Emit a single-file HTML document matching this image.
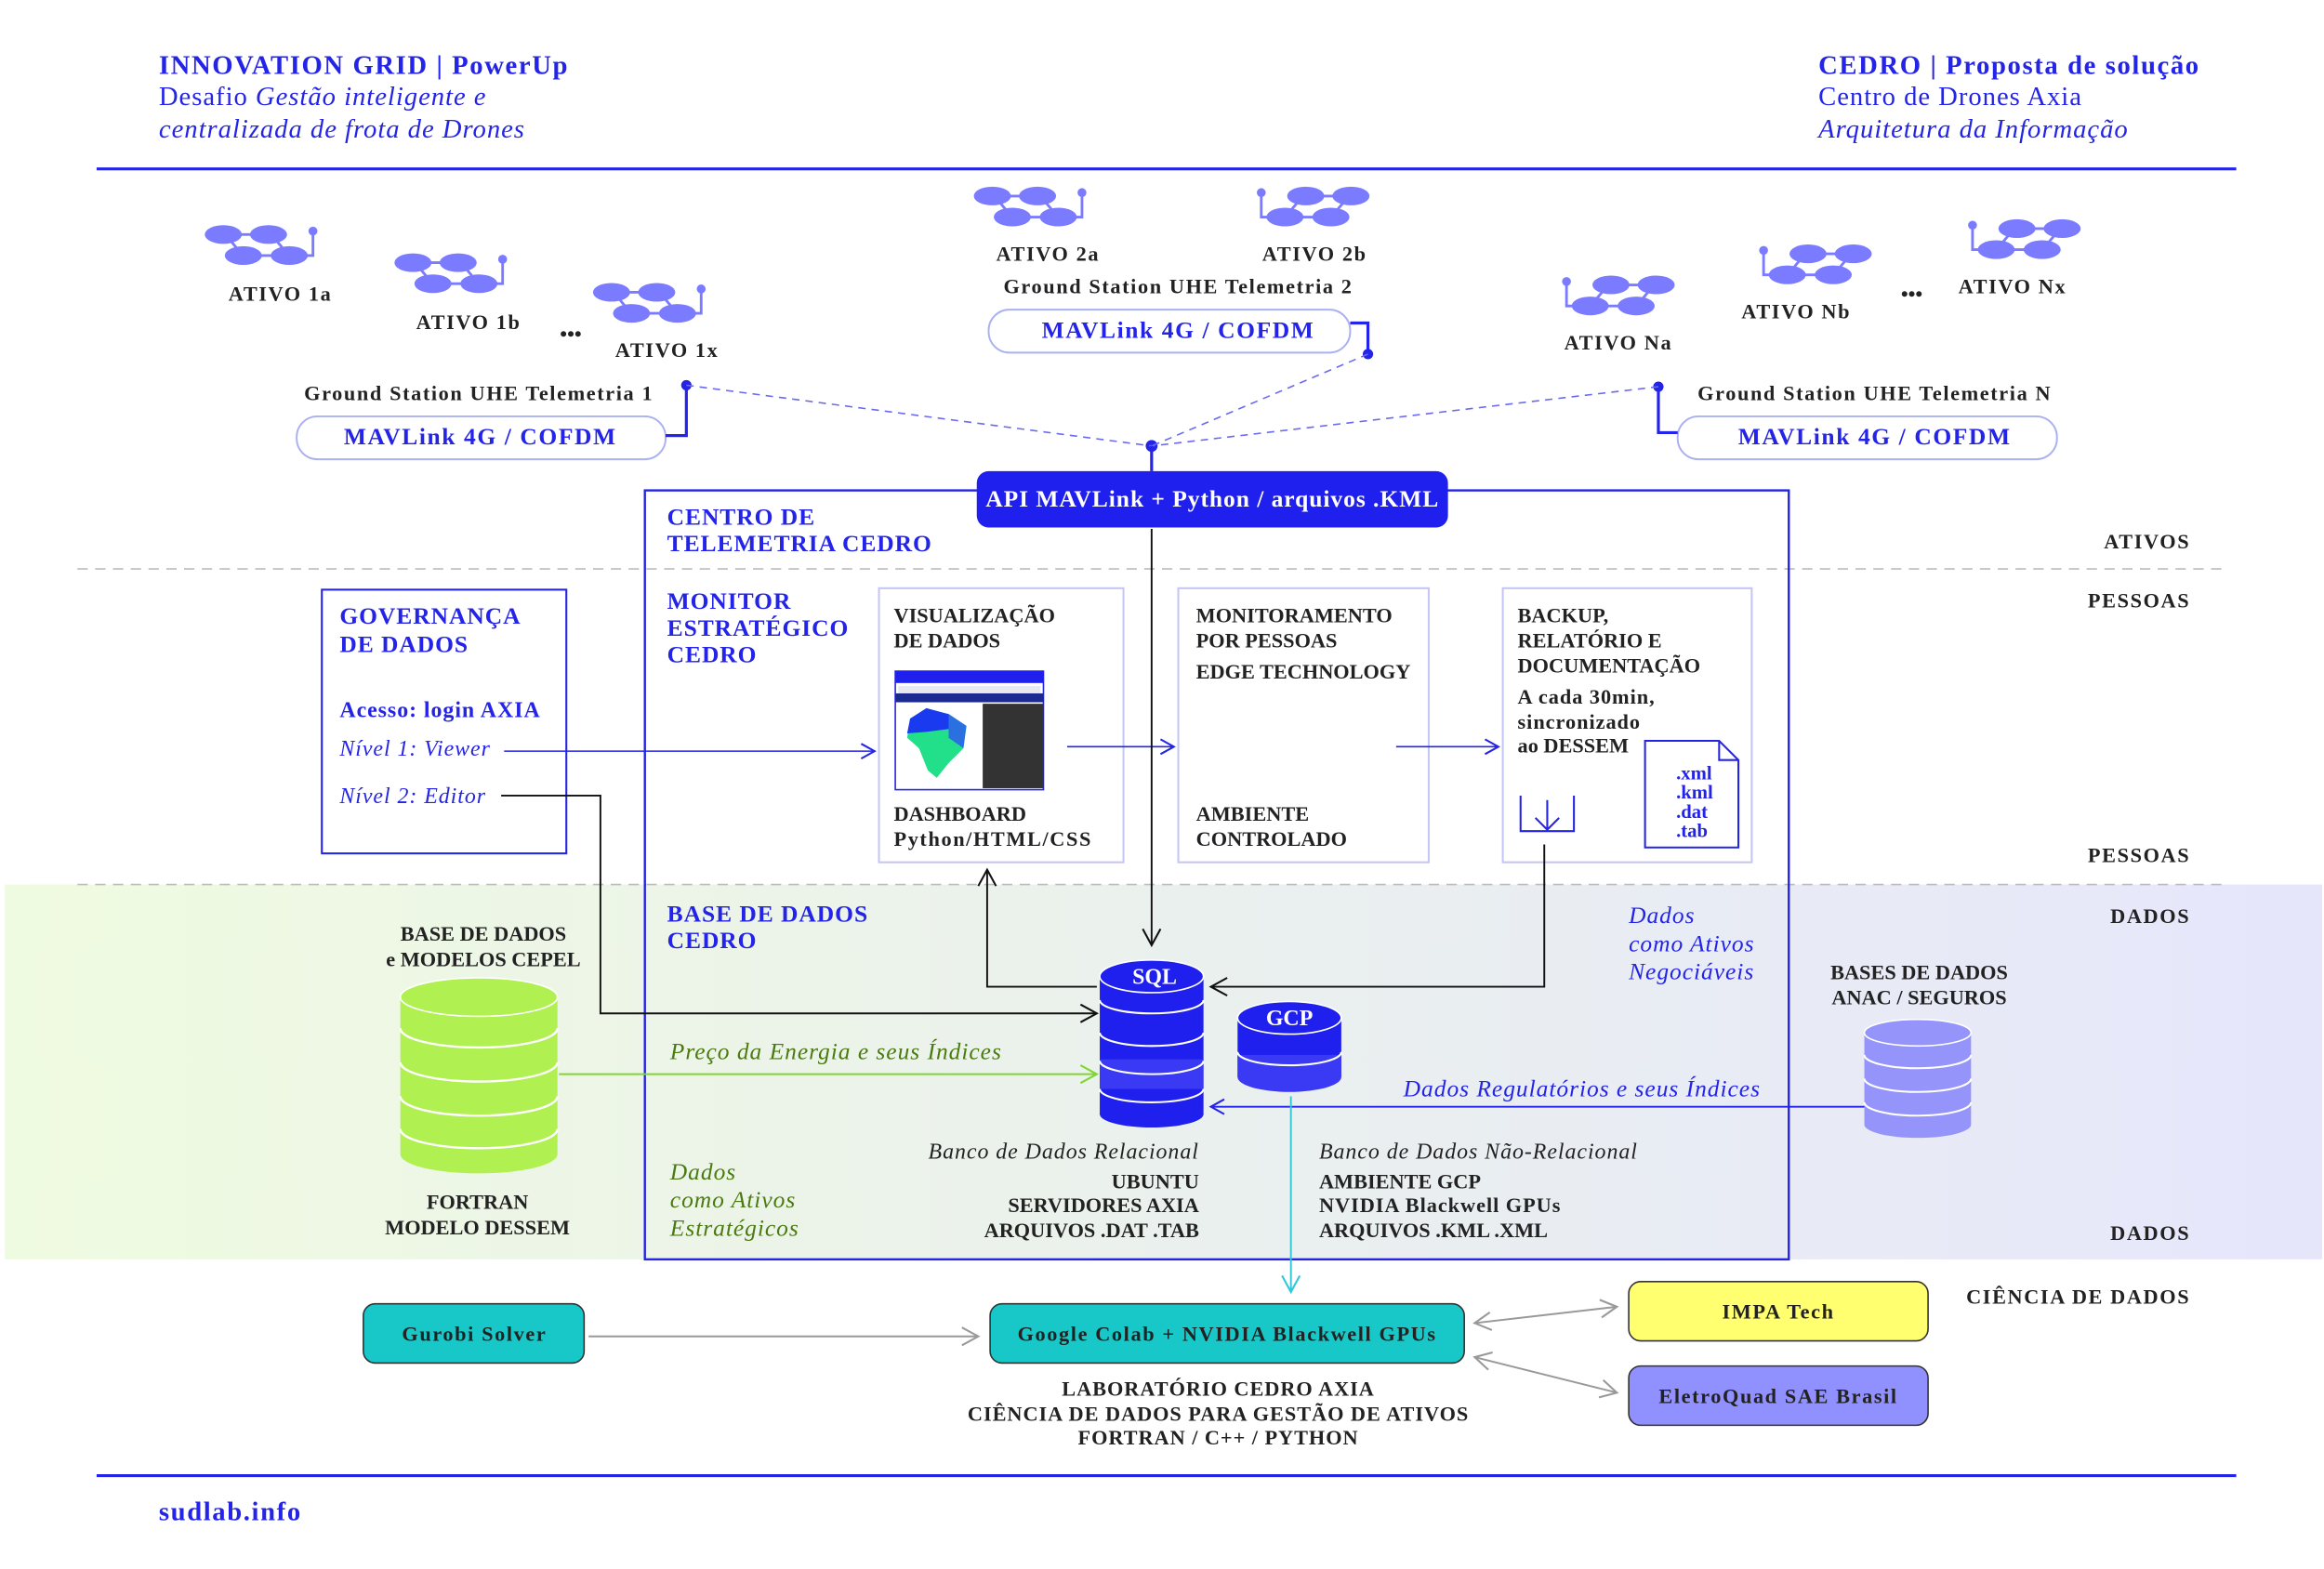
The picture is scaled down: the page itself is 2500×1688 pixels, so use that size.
<!DOCTYPE html>
<html><head><meta charset="utf-8"><style>
html,body{margin:0;padding:0;background:#fff}
svg{display:block}
text{font-family:"Liberation Serif",serif}
.b{font-weight:bold;fill:#222;font-size:14px}
.bl{font-weight:bold;fill:#2424e8}
.it{font-style:italic}
.w{letter-spacing:1px}
.w2{letter-spacing:0.6px}
</style></head><body>
<svg width="2500" height="1688" viewBox="0 0 1568 1059" xmlns="http://www.w3.org/2000/svg">
<defs>
<linearGradient id="band" x1="0" x2="1" y1="0" y2="0">
<stop offset="0" stop-color="#effbe0"/><stop offset="1" stop-color="#e6e6fb"/></linearGradient>
<g id="dr" fill="#7b7bff">
<ellipse cx="12.5" cy="6.3" rx="12.5" ry="6.3"/><ellipse cx="43" cy="6.3" rx="12.5" ry="6.3"/>
<ellipse cx="26" cy="20.5" rx="12.5" ry="6.3"/><ellipse cx="57" cy="20.5" rx="12.5" ry="6.3"/>
<path d="M20,6.3H36M17,10L22,16M48,10L53,16M35,20.5H50M69,20.5H73V4" stroke="#7b7bff" stroke-width="1.8" fill="none"/>
<circle cx="73" cy="4" r="3"/></g>
<marker id="ab" markerWidth="12" markerHeight="12" refX="10" refY="6" orient="auto" markerUnits="userSpaceOnUse"><path d="M1,1L10,6L1,11" fill="none" stroke="#2424e8" stroke-width="1.3"/></marker>
<marker id="ak" markerWidth="14" markerHeight="14" refX="12" refY="7" orient="auto" markerUnits="userSpaceOnUse"><path d="M1,1L12,7L1,13" fill="none" stroke="#111" stroke-width="1.3"/></marker>
<marker id="ag" markerWidth="14" markerHeight="14" refX="12" refY="7" orient="auto" markerUnits="userSpaceOnUse"><path d="M1,1L12,7L1,13" fill="none" stroke="#7fd630" stroke-width="1.3"/></marker>
<marker id="ac" markerWidth="14" markerHeight="14" refX="12" refY="7" orient="auto" markerUnits="userSpaceOnUse"><path d="M1,1L12,7L1,13" fill="none" stroke="#30c8d8" stroke-width="1.3"/></marker>
<marker id="ay" markerWidth="14" markerHeight="14" refX="12" refY="7" orient="auto" markerUnits="userSpaceOnUse"><path d="M1,1L12,7L1,13" fill="none" stroke="#999" stroke-width="1.3"/></marker>
<marker id="ays" markerWidth="14" markerHeight="14" refX="12" refY="7" orient="auto-start-reverse" markerUnits="userSpaceOnUse"><path d="M1,1L12,7L1,13" fill="none" stroke="#999" stroke-width="1.3"/></marker>
</defs>
<rect x="3" y="597" width="1564" height="253" fill="url(#band)"/>
<!-- header -->
<text x="107" y="50" class="bl w" font-size="18">INNOVATION GRID | PowerUp</text>
<text x="107" y="71" font-size="18" fill="#2424e8" class="w2">Desafio <tspan class="it">Gestão inteligente e</tspan></text>
<text x="107" y="93" font-size="18" fill="#2424e8" class="it w2">centralizada de frota de Drones</text>
<text x="1227" y="50" class="bl w" font-size="18">CEDRO | Proposta de solução</text>
<text x="1227" y="71" font-size="18" fill="#2424e8" class="w2">Centro de Drones Axia</text>
<text x="1227" y="93" font-size="18" fill="#2424e8" class="it w2">Arquitetura da Informação</text>
<line x1="65" y1="114" x2="1509" y2="114" stroke="#2424e8" stroke-width="2"/>
<line x1="65" y1="996" x2="1509" y2="996" stroke="#2424e8" stroke-width="2"/>
<text x="107" y="1026" class="bl w" font-size="18">sudlab.info</text>
<line x1="52" y1="384" x2="1500" y2="384" stroke="#bbb" stroke-dasharray="7,5"/>
<line x1="52" y1="597" x2="1500" y2="597" stroke="#bbb" stroke-dasharray="7,5"/>
<g text-anchor="end">
<text x="1478" y="370" class="b w" font-size="16">ATIVOS</text><text x="1478" y="410" class="b w" font-size="16">PESSOAS</text>
<text x="1478" y="582" class="b w" font-size="16">PESSOAS</text><text x="1478" y="623" class="b w" font-size="16">DADOS</text>
<text x="1478" y="837" class="b w" font-size="16">DADOS</text><text x="1478" y="880" class="b w" font-size="16">CIÊNCIA DE DADOS</text></g>
<!-- drones -->
<use href="#dr" x="138" y="152"/><use href="#dr" x="266" y="171"/><use href="#dr" x="400" y="191"/>
<use href="#dr" x="657" y="126"/>
<use href="#dr" transform="translate(924,126) scale(-1,1)"/>
<use href="#dr" transform="translate(1130,186) scale(-1,1)"/>
<use href="#dr" transform="translate(1263,165) scale(-1,1)"/>
<use href="#dr" transform="translate(1404,148) scale(-1,1)"/>
<g text-anchor="middle">
<text x="189" y="203" class="b w" font-size="16">ATIVO 1a</text><text x="316" y="222" class="b w" font-size="16">ATIVO 1b</text>
<text x="385" y="230" class="b" font-size="15">•••</text><text x="450" y="241" class="b w" font-size="16">ATIVO 1x</text>
<text x="707" y="176" class="b w" font-size="16">ATIVO 2a</text><text x="887" y="176" class="b w" font-size="16">ATIVO 2b</text>
<text x="795" y="198" class="b w" font-size="16">Ground Station UHE Telemetria 2</text>
<text x="323" y="270" class="b w" font-size="16">Ground Station UHE Telemetria 1</text>
<text x="1265" y="270" class="b w" font-size="16">Ground Station UHE Telemetria N</text>
<text x="1092" y="236" class="b w" font-size="16">ATIVO Na</text><text x="1212" y="215" class="b w" font-size="16">ATIVO Nb</text>
<text x="1290" y="203" class="b" font-size="15">•••</text><text x="1358" y="198" class="b w" font-size="16">ATIVO Nx</text>
</g>
<g fill="#fff" stroke="#aab0f0" stroke-width="1.2">
<rect x="667" y="209" width="244" height="29" rx="14"/><rect x="200" y="281" width="249" height="29" rx="14"/><rect x="1132" y="281" width="256" height="29" rx="14"/></g>
<g text-anchor="middle" class="bl w" font-size="16">
<text x="795" y="228">MAVLink 4G / COFDM</text><text x="324" y="300">MAVLink 4G / COFDM</text><text x="1265" y="300">MAVLink 4G / COFDM</text></g>
<g stroke="#2424e8" stroke-width="2" fill="none"><path d="M911,218H923V239M449,294H463V260M1132,292H1119V261"/></g>
<g fill="#2424e8"><circle cx="923" cy="239" r="3.5"/><circle cx="463" cy="260" r="3.5"/><circle cx="1119" cy="261" r="3.5"/><circle cx="777" cy="301" r="4"/></g>
<g stroke="#6a6af0" stroke-width="1" stroke-dasharray="5,4"><line x1="463" y1="260" x2="777" y2="301"/><line x1="923" y1="239" x2="777" y2="301"/><line x1="1119" y1="261" x2="777" y2="301"/></g>
<line x1="777" y1="301" x2="777" y2="318" stroke="#2424e8" stroke-width="2"/>
<!-- centro -->
<rect x="435" y="331" width="772" height="519" fill="none" stroke="#2424e8" stroke-width="1.5"/>
<rect x="659" y="318" width="318" height="38" rx="8" fill="#2020ee"/>
<text x="818" y="342" text-anchor="middle" font-weight="bold" font-size="16" fill="#fff" class="w2">API MAVLink + Python / arquivos .KML</text>
<text x="450" y="354" class="bl w2" font-size="16">CENTRO DE</text><text x="450" y="372" class="bl w2" font-size="16">TELEMETRIA CEDRO</text>
<text x="450" y="411" class="bl w2" font-size="16">MONITOR</text><text x="450" y="429" class="bl w2" font-size="16">ESTRATÉGICO</text><text x="450" y="447" class="bl w2" font-size="16">CEDRO</text>
<!-- governanca -->
<rect x="217" y="398" width="165" height="178" fill="#fff" stroke="#2424e8" stroke-width="1.3"/>
<text x="229" y="421" class="bl w2" font-size="16">GOVERNANÇA</text><text x="229" y="440" class="bl w2" font-size="16">DE DADOS</text>
<text x="229" y="484" class="bl w2" font-size="15">Acesso: login AXIA</text>
<text x="229" y="510" class="it w2" font-size="15" fill="#2424e8">Nível 1: Viewer</text>
<text x="229" y="542" class="it w2" font-size="15" fill="#2424e8">Nível 2: Editor</text>
<!-- boxes -->
<g fill="#fff" stroke="#c6c6f4" stroke-width="1.3">
<rect x="593" y="397" width="165" height="185"/><rect x="795" y="397" width="169" height="185"/><rect x="1014" y="397" width="168" height="185"/></g>
<g font-size="14">
<text x="603" y="420" class="b">VISUALIZAÇÃO</text><text x="603" y="437" class="b">DE DADOS</text>
<text x="603" y="554" class="b">DASHBOARD</text><text x="603" y="571" class="b w">Python/HTML/CSS</text>
<text x="807" y="420" class="b">MONITORAMENTO</text><text x="807" y="437" class="b">POR PESSOAS</text><text x="807" y="458" class="b">EDGE TECHNOLOGY</text>
<text x="807" y="554" class="b">AMBIENTE</text><text x="807" y="571" class="b">CONTROLADO</text>
<text x="1024" y="420" class="b">BACKUP,</text><text x="1024" y="437" class="b">RELATÓRIO E</text><text x="1024" y="454" class="b">DOCUMENTAÇÃO</text>
<text x="1024" y="475" class="b w2">A cada 30min,</text><text x="1024" y="492" class="b w2">sincronizado</text><text x="1024" y="508" class="b">ao DESSEM</text></g>
<!-- dashboard thumb -->
<rect x="604" y="453" width="100" height="80" fill="#fff" stroke="#2424e8"/>
<rect x="604" y="453" width="100" height="8" fill="#2020ee"/>
<rect x="606" y="463" width="96" height="5" fill="#e8e8f0"/>
<rect x="604" y="468" width="100" height="6" fill="#1a2a90"/>
<rect x="663" y="475" width="41" height="57" fill="#333"/>
<path d="M614,485L625,478L640,482L652,490L650,505L640,515L632,525L626,520L620,505L612,498Z" fill="#22e08a"/>
<path d="M614,485L625,478L640,482L652,490L640,492L625,494L612,495Z" fill="#1a3af0"/>
<path d="M640,482L652,490L650,505L640,498Z" fill="#2a70e0"/>
<!-- file icon -->
<path d="M1110,572V500H1160L1173,513V572Z" fill="#fff" stroke="#2424e8" stroke-width="1.3"/>
<path d="M1160,500V513H1173" fill="none" stroke="#2424e8" stroke-width="1.3"/>
<g class="bl" font-size="13"><text x="1131" y="526">.xml</text><text x="1131" y="539">.kml</text><text x="1131" y="552">.dat</text><text x="1131" y="565">.tab</text></g>
<path d="M1026,537V561H1062V537" fill="none" stroke="#2424e8" stroke-width="1.3"/>
<path d="M1044,540V560M1036,552L1044,560L1052,552" fill="none" stroke="#2424e8" stroke-width="1.3"/>
<!-- arrows pessoas -->
<line x1="340" y1="507" x2="590" y2="507" stroke="#2424e8" marker-end="url(#ab)"/>
<line x1="720" y1="504" x2="792" y2="504" stroke="#2424e8" marker-end="url(#ab)"/>
<line x1="942" y1="504" x2="1011" y2="504" stroke="#2424e8" marker-end="url(#ab)"/>
<path d="M338,537H405V684H740" fill="none" stroke="#111" stroke-width="1.2" marker-end="url(#ak)"/>
<path d="M740,666H666V587" fill="none" stroke="#111" stroke-width="1.2" marker-end="url(#ak)"/>
<path d="M1042,570V666H817" fill="none" stroke="#111" stroke-width="1.2" marker-end="url(#ak)"/>
<line x1="777" y1="357" x2="777" y2="638" stroke="#111" stroke-width="1.2" marker-end="url(#ak)"/>
<!-- dados -->
<text x="450" y="622" class="bl w2" font-size="16">BASE DE DADOS</text><text x="450" y="640" class="bl w2" font-size="16">CEDRO</text>
<g class="it w2" font-size="16" fill="#2424e8"><text x="1099" y="623">Dados</text><text x="1099" y="642">como Ativos</text><text x="1099" y="661">Negociáveis</text></g>
<g class="it w2" font-size="16" fill="#4a7a10"><text x="452" y="796">Dados</text><text x="452" y="815">como Ativos</text><text x="452" y="834">Estratégicos</text></g>
<!-- SQL cyl -->
<rect x="742" y="659" width="70" height="93" fill="#2020ee"/>
<ellipse cx="777" cy="752" rx="35" ry="9" fill="#2020ee"/>
<rect x="742" y="715" width="70" height="20" fill="#3a3af5"/>
<g fill="none" stroke="#fff" stroke-width="1.3">
<path d="M742,675A35,9 0 0 0 812,675M742,697A35,9 0 0 0 812,697M742,716A35,9 0 0 0 812,716M742,735A35,9 0 0 0 812,735"/></g>
<ellipse cx="777" cy="659" rx="35" ry="11" fill="#2020ee" stroke="#fff" stroke-width="1"/>
<text x="779" y="664" text-anchor="middle" font-weight="bold" font-size="15" fill="#fff">SQL</text>
<!-- GCP -->
<rect x="835" y="687" width="70" height="40" fill="#2020ee"/>
<rect x="835" y="712" width="70" height="15" fill="#3a3af5"/>
<ellipse cx="870" cy="727" rx="35" ry="10" fill="#3a3af5"/>
<path d="M835,710A35,9 0 0 0 905,710" fill="none" stroke="#fff" stroke-width="1.3"/>
<ellipse cx="870" cy="687" rx="35" ry="11" fill="#2020ee" stroke="#fff" stroke-width="1"/>
<text x="870" y="692" text-anchor="middle" font-weight="bold" font-size="15" fill="#fff">GCP</text>
<!-- ANAC -->
<g text-anchor="middle"><text x="1295" y="661" class="b" font-size="14">BASES DE DADOS</text><text x="1295" y="678" class="b" font-size="14">ANAC / SEGUROS</text>
<text x="326" y="635" class="b" font-size="14">BASE DE DADOS</text><text x="326" y="652" class="b" font-size="14">e MODELOS CEPEL</text>
<text x="322" y="816" class="b" font-size="14">FORTRAN</text><text x="322" y="833" class="b" font-size="14">MODELO DESSEM</text></g>
<rect x="1258" y="697" width="72" height="62" fill="#9494fa"/>
<ellipse cx="1294" cy="759" rx="36" ry="9" fill="#9494fa"/>
<g fill="none" stroke="#fff" stroke-width="1.3"><path d="M1258,712A36,9 0 0 0 1330,712M1258,728A36,9 0 0 0 1330,728M1258,744A36,9 0 0 0 1330,744"/></g>
<ellipse cx="1294" cy="697" rx="36" ry="9" fill="#9494fa" stroke="#fff"/>
<!-- green cyl -->
<rect x="270" y="673" width="106" height="106" fill="#b0f050"/>
<ellipse cx="323" cy="779" rx="53" ry="13" fill="#b0f050"/>
<g fill="none" stroke="#fff" stroke-width="1.5"><path d="M270,694A53,13 0 0 0 376,694M270,717A53,13 0 0 0 376,717M270,740A53,13 0 0 0 376,740M270,762A53,13 0 0 0 376,762"/></g>
<ellipse cx="323" cy="673" rx="53" ry="13" fill="#b0f050" stroke="#fff"/>
<line x1="377" y1="725" x2="740" y2="725" stroke="#7fd630" stroke-width="1.2" marker-end="url(#ag)"/>
<text x="452" y="715" class="it w2" font-size="16" fill="#4a7a10">Preço da Energia e seus Índices</text>
<line x1="1258" y1="747" x2="817" y2="747" stroke="#2424e8" stroke-width="1.2" marker-end="url(#ab)"/>
<text x="1188" y="740" text-anchor="end" class="it w2" font-size="16" fill="#2424e8">Dados Regulatórios e seus Índices</text>
<g><text x="809" y="782" text-anchor="end" class="it w2" font-size="15" fill="#222">Banco de Dados Relacional</text>
<text x="809" y="802" text-anchor="end" class="b" font-size="14">UBUNTU</text>
<text x="809" y="818" text-anchor="end" class="b" font-size="14">SERVIDORES AXIA</text>
<text x="809" y="835" text-anchor="end" class="b" font-size="14">ARQUIVOS .DAT .TAB</text>
<text x="890" y="782" class="it w2" font-size="15" fill="#222">Banco de Dados Não-Relacional</text>
<text x="890" y="802" class="b" font-size="14">AMBIENTE GCP</text>
<text x="890" y="818" class="b w2" font-size="14">NVIDIA Blackwell GPUs</text>
<text x="890" y="835" class="b" font-size="14">ARQUIVOS .KML .XML</text></g>
<line x1="871" y1="740" x2="871" y2="872" stroke="#30c8d8" stroke-width="1.2" marker-end="url(#ac)"/>
<!-- ciencia -->
<rect x="245" y="880" width="149" height="40" rx="8" fill="#18c8c8" stroke="#333"/>
<rect x="668" y="880" width="320" height="40" rx="8" fill="#18c8c8" stroke="#333"/>
<rect x="1099" y="865" width="202" height="40" rx="8" fill="#ffff70" stroke="#333"/>
<rect x="1099" y="922" width="202" height="40" rx="8" fill="#9090ff" stroke="#333"/>
<g text-anchor="middle">
<text x="320" y="905" class="b w" font-size="16">Gurobi Solver</text>
<text x="828" y="905" class="b w" font-size="16">Google Colab + NVIDIA Blackwell GPUs</text>
<text x="1200" y="890" class="b w" font-size="16">IMPA Tech</text>
<text x="1200" y="947" class="b w" font-size="16">EletroQuad SAE Brasil</text>
<text x="822" y="942" class="b w2" font-size="14">LABORATÓRIO CEDRO AXIA</text>
<text x="822" y="959" class="b w2" font-size="14">CIÊNCIA DE DADOS PARA GESTÃO DE ATIVOS</text>
<text x="822" y="975" class="b w2" font-size="14">FORTRAN / C++ / PYTHON</text></g>
<line x1="397" y1="902" x2="660" y2="902" stroke="#999" stroke-width="1.2" marker-end="url(#ay)"/>
<line x1="995" y1="893" x2="1091" y2="882" stroke="#999" stroke-width="1.2" marker-start="url(#ays)" marker-end="url(#ay)"/>
<line x1="995" y1="916" x2="1091" y2="940" stroke="#999" stroke-width="1.2" marker-start="url(#ays)" marker-end="url(#ay)"/>
</svg>
</body></html>
